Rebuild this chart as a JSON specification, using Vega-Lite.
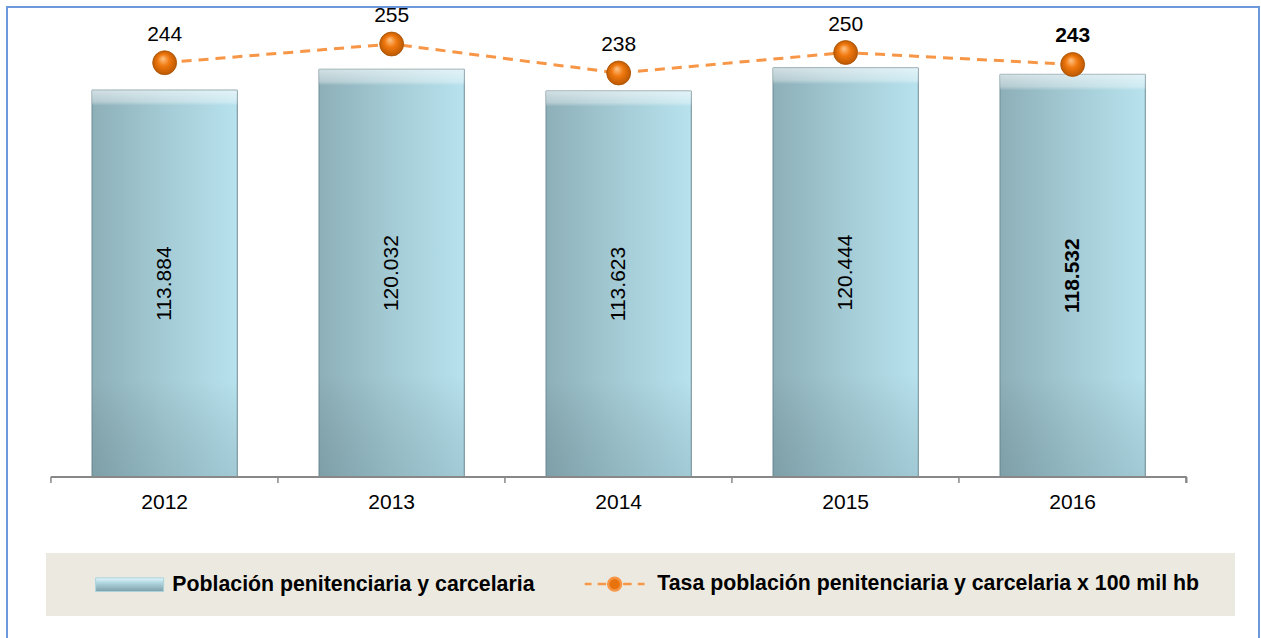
{
  "$schema": "https://vega.github.io/schema/vega-lite/v6.json",
  "width": 1252,
  "height": 633,
  "padding": {"left": 7, "top": 7, "right": 2, "bottom": -2},
  "autosize": {"type": "none"},
  "background": "#ffffff",
  "config": {
    "view": {"stroke": "#6C98DC", "strokeWidth": 2},
    "font": "Liberation Sans",
    "locale": {"number": {"decimal": ",", "thousands": ".", "grouping": [3], "currency": ["", " €"]}}
  },
  "data": {
    "values": [
      {"anio": "2012", "serie": "Población penitenciaria y carcelaria", "valor": 113884},
      {"anio": "2013", "serie": "Población penitenciaria y carcelaria", "valor": 120032},
      {"anio": "2014", "serie": "Población penitenciaria y carcelaria", "valor": 113623},
      {"anio": "2015", "serie": "Población penitenciaria y carcelaria", "valor": 120444},
      {"anio": "2016", "serie": "Población penitenciaria y carcelaria", "valor": 118532},
      {"anio": "2012", "serie": "Tasa población penitenciaria y carcelaria x 100 mil hb", "valor": 244},
      {"anio": "2013", "serie": "Tasa población penitenciaria y carcelaria x 100 mil hb", "valor": 255},
      {"anio": "2014", "serie": "Tasa población penitenciaria y carcelaria x 100 mil hb", "valor": 238},
      {"anio": "2015", "serie": "Tasa población penitenciaria y carcelaria x 100 mil hb", "valor": 250},
      {"anio": "2016", "serie": "Tasa población penitenciaria y carcelaria x 100 mil hb", "valor": 243}
    ]
  },
  "encoding": {
    "x": {
      "field": "anio",
      "type": "nominal",
      "sort": null,
      "scale": {"type": "band", "paddingInner": 0.36, "paddingOuter": 0.4377, "align": 0.4278},
      "axis": {
        "title": null,
        "domain": false,
        "grid": false,
        "ticks": false,
        "labelFont": "Liberation Sans",
        "labelFontSize": 21,
        "labelColor": "#000000",
        "labelAngle": 0,
        "labelPadding": 14,
        "offset": -163
      }
    }
  },
  "layer": [
    {
      "transform": [{"filter": "datum.serie == 'Población penitenciaria y carcelaria'"}],
      "layer": [
        {
          "encoding": {
            "y": {"field": "valor", "type": "quantitative", "scale": {"domain": [-47983, 138357], "zero": false, "nice": false}, "axis": null}
          },
          "layer": [
            {
              "mark": {
                "type": "bar",
                "fill": {"gradient": "linear", "x1": 0, "y1": 0, "x2": 1, "y2": 0,
                  "stops": [{"offset": 0, "color": "#8DAFB8"}, {"offset": 0.5, "color": "#A4CBD5"}, {"offset": 1, "color": "#B7E2EE"}]},
                "stroke": "#6F8C94",
                "strokeWidth": 1
              },
              "encoding": {"y2": {"datum": 0}}
            },
            {
              "mark": {
                "type": "bar",
                "fill": {"gradient": "linear", "x1": 0, "y1": 0, "x2": 0, "y2": 1,
                  "stops": [{"offset": 0, "color": "rgba(255,255,255,0.6)"}, {"offset": 0.03, "color": "rgba(255,255,255,0.35)"}, {"offset": 0.04, "color": "rgba(255,255,255,0)"}, {"offset": 0.75, "color": "rgba(0,0,0,0)"}, {"offset": 1, "color": "rgba(40,70,80,0.15)"}]}
              },
              "encoding": {"y2": {"datum": 0}}
            },
            {
              "mark": {"type": "rule", "color": "#898989", "strokeWidth": 1.5},
              "encoding": {
                "x": {"datum": "2012", "bandPosition": -0.2828},
                "x2": {"datum": "2016", "bandPosition": 1.2828},
                "y": {"datum": 0}
              }
            },
            {
              "mark": {"type": "rule", "color": "#898989", "strokeWidth": 1.5},
              "encoding": {
                "x": {"field": "anio", "type": "nominal", "bandPosition": -0.2828},
                "y": {"datum": 0},
                "y2": {"datum": -1766}
              }
            },
            {
              "mark": {"type": "rule", "color": "#898989", "strokeWidth": 1.5},
              "encoding": {
                "x": {"datum": "2016", "bandPosition": 1.2828},
                "y": {"datum": 0},
                "y2": {"datum": -1766}
              }
            }
          ]
        },
        {
          "encoding": {
            "y": {"field": "valor", "type": "quantitative", "scale": {"domain": [-95966, 276714], "zero": false, "nice": false}, "axis": null},
            "text": {"field": "valor", "type": "quantitative", "format": ",.0f"}
          },
          "layer": [
            {
              "transform": [{"filter": "datum.anio != '2016'"}],
              "mark": {"type": "text", "angle": 270, "align": "center", "baseline": "middle", "font": "Liberation Sans", "fontSize": 21, "color": "#000000"}
            },
            {
              "transform": [{"filter": "datum.anio == '2016'"}],
              "mark": {"type": "text", "angle": 270, "align": "center", "baseline": "middle", "font": "Liberation Sans", "fontSize": 21, "fontWeight": "bold", "color": "#000000"}
            }
          ]
        }
      ],
      "resolve": {"scale": {"y": "independent"}}
    },
    {
      "transform": [{"filter": "datum.serie == 'Tasa población penitenciaria y carcelaria x 100 mil hb'"}],
      "encoding": {
        "y": {"field": "valor", "type": "quantitative", "scale": {"domain": [-94.36, 276.69], "zero": false, "nice": false}, "axis": null}
      },
      "layer": [
        {
          "mark": {"type": "line", "strokeWidth": 3, "strokeDash": [10, 7]},
          "encoding": {
            "color": {
              "field": "serie",
              "type": "nominal",
              "scale": {"domain": ["Población penitenciaria y carcelaria", "Tasa población penitenciaria y carcelaria x 100 mil hb"], "range": ["#A9D3DE", "#F79646"]},
              "legend": {
                "title": null,
                "orient": "none",
                "legendX": 39,
                "legendY": 546,
                "direction": "horizontal",
                "columns": 2,
                "fillColor": "#ECEAE0",
                "padding": 20,
                "symbolSize": 4624,
                "symbolOffset": 53,
                "labelOffset": 32,
                "columnPadding": 16,
                "labelFont": "Liberation Sans",
                "labelFontSize": 21.3,
                "labelFontWeight": "bold",
                "labelColor": "#000000",
                "labelLimit": 900,
                "labelExpr": "datum.label == 'Tasa población penitenciaria y carcelaria x 100 mil hb' ? datum.label + '\u2800' : datum.label",
                "encode": {
                  "symbols": {
                    "update": {
                      "shape": {"signal": "datum.value == 'Población penitenciaria y carcelaria' ? 'M-1,-0.2H1V0.2H-1Z' : 'M-0.88,0H-0.68M-0.5,0H-0.25M0.19,0A0.19,0.19,0,1,1,-0.19,0A0.19,0.19,0,1,1,0.19,0ZM0.25,0H0.5M0.68,0H0.88'"},
                      "fill": {"signal": "datum.value == 'Población penitenciaria y carcelaria' ? {gradient: 'linear', x1: 0, y1: 0, x2: 0, y2: 1, stops: [{offset: 0, color: '#E4F7FB'}, {offset: 0.35, color: '#B2D8E2'}, {offset: 1, color: '#7D9EA8'}]} : '#E8720C'"},
                      "stroke": {"signal": "datum.value == 'Población penitenciaria y carcelaria' ? '#6D8C95' : '#F79646'"},
                      "strokeWidth": {"signal": "datum.value == 'Población penitenciaria y carcelaria' ? 1 : 2.5"},
                      "opacity": {"value": 1},
                      "fillOpacity": {"value": 1},
                      "strokeOpacity": {"value": 1},
                      "strokeDash": {"value": []}
                    }
                  }
                }
              }
            }
          }
        },
        {
          "mark": {
            "type": "circle",
            "size": 573,
            "opacity": 1,
            "fill": {"gradient": "radial", "x1": 0.42, "y1": 0.32, "r1": 0, "x2": 0.5, "y2": 0.5, "r2": 0.55,
              "stops": [{"offset": 0, "color": "#FFC58A"}, {"offset": 0.45, "color": "#F0780E"}, {"offset": 1, "color": "#B45400"}]},
            "stroke": "#A85000",
            "strokeWidth": 0.8
          }
        },
        {
          "encoding": {"text": {"field": "valor", "type": "quantitative"}},
          "layer": [
            {
              "transform": [{"filter": "datum.anio != '2016'"}],
              "mark": {"type": "text", "align": "center", "baseline": "alphabetic", "dy": -22, "font": "Liberation Sans", "fontSize": 21, "color": "#000000"}
            },
            {
              "transform": [{"filter": "datum.anio == '2016'"}],
              "mark": {"type": "text", "align": "center", "baseline": "alphabetic", "dy": -22, "font": "Liberation Sans", "fontSize": 21, "fontWeight": "bold", "color": "#000000"}
            }
          ]
        }
      ]
    }
  ],
  "resolve": {"scale": {"y": "independent"}}
}
